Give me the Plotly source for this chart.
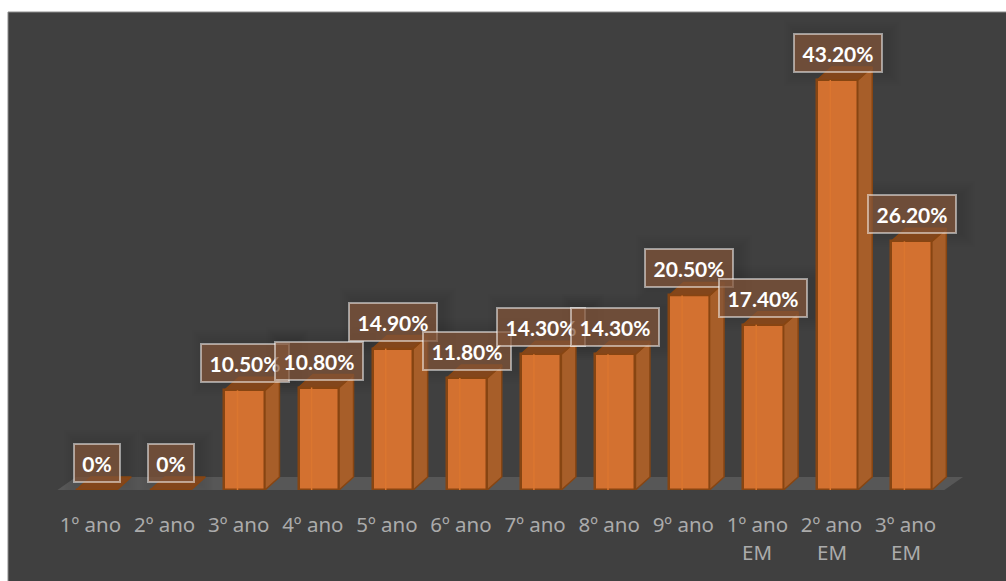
import plotly.graph_objects as go

categories = ["1º ano", "2º ano", "3º ano", "4º ano", "5º ano", "6º ano",
              "7º ano", "8º ano", "9º ano", "1º ano", "2º ano", "3º ano"]
second_line = ["", "", "", "", "", "", "", "", "", "EM", "EM", "EM"]
values = [0, 0, 10.5, 10.8, 14.9, 11.8, 14.3, 14.3, 20.5, 17.4, 43.2, 26.2]
labels = ["0%", "0%", "10.50%", "10.80%", "14.90%", "11.80%",
          "14.30%", "14.30%", "20.50%", "17.40%", "43.20%", "26.20%"]

W, H = 1006, 581
BASE = 490
PX_X = 74.1
PX_Y = 9.49
X0 = 90.5
BAR_PX = 40.5
SHIFT_PX = 6
DX_PX, DY_PX = 14.5, 13

dx = DX_PX / PX_X
dy = DY_PX / PX_Y
bw = BAR_PX / PX_X
shift = SHIFT_PX / PX_X
xs = list(range(len(values)))
DARK = "#404040"
EDGE = "#874512"
TICK = "#ABABAB"

shapes = [dict(type="rect", xref="paper", yref="paper",
               x0=8 / W, x1=1.01, y0=-(H - BASE + 5) / BASE, y1=(BASE - 12) / BASE,
               fillcolor=DARK, line=dict(color="#8c8c8c", width=1), layer="below")]

# floor
fx0, fx1 = (56 - X0) / PX_X, (943 - X0) / PX_X
shapes.append(dict(type="path", xref="x", yref="y", layer="below", line=dict(width=0),
                   fillcolor="#575757",
                   path=f"M{fx0},-0.1 L{fx1},-0.1 L{fx1 + 20 / PX_X},{dy} L{fx0 + 20 / PX_X},{dy} Z"))

# soft shadows under bars and labels
def soft(xc, ytop, halfw, up, down):
    out = []
    for g in range(2, 16, 2):
        out.append(dict(type="rect", layer="below", xref="x", yref="y",
                        xsizemode="pixel", ysizemode="pixel", xanchor=xc, yanchor=ytop,
                        x0=-halfw - g + 5, x1=halfw + g + 5, y0=-down - g, y1=up + g,
                        fillcolor="rgba(0,0,0,0.012)", line=dict(width=0)))
    return out

for x, v, t in zip(xs, values, labels):
    c = x + shift
    half = 23 if t == "0%" else 44
    shapes += soft(c, v, half, 46, -8)

fig = go.Figure()
# side and top faces derived from the values
for x, v in zip(xs, values):
    l = x + shift - bw / 2
    r = x + shift + bw / 2
    if v > 0:
        fig.add_trace(go.Scatter(x=[r, r + dx, r + dx, r, r], y=[0, dy, v + dy, v, 0],
                                 mode="lines", fill="toself", fillcolor="#A75E29",
                                 line=dict(color=EDGE, width=1.5),
                                 hoverinfo="skip", showlegend=False))
    fig.add_trace(go.Scatter(x=[l, r, r + dx, l + dx, l], y=[v, v, v + dy, v + dy, v],
                             mode="lines", fill="toself", fillcolor="#83461B",
                             line=dict(color=EDGE, width=1.5),
                             hoverinfo="skip", showlegend=False))

fig.add_trace(go.Bar(x=xs, y=values, width=bw, offset=shift - bw / 2,
                     marker=dict(color="#D37130", line=dict(color=EDGE, width=2.5)),
                     hoverinfo="skip", showlegend=False))

# faint rear edge seen through the front face
for x, v in zip(xs, values):
    if v > 0:
        l = x + shift - bw / 2 + dx * 0.9
        fig.add_trace(go.Scatter(x=[l, l], y=[0, v], mode="lines",
                                 line=dict(color="#DB762F", width=1.5),
                                 hoverinfo="skip", showlegend=False))

annotations = []
for x, v, t in zip(xs, values, labels):
    w = 44 if t == "0%" else 86
    annotations.append(dict(x=x + shift, y=v, xref="x", yref="y", text=f"<b>{t}</b>",
                            showarrow=False, yanchor="bottom", yshift=7,
                            width=w, height=36, borderpad=0, align="center", valign="middle",
                            bgcolor="rgba(130,85,57,0.72)",
                            bordercolor="rgba(255,255,255,0.5)", borderwidth=2,
                            font=dict(family="Lato", size=21, color="white")))
for x, s in zip(xs, second_line):
    if s:
        annotations.append(dict(x=x, y=-(552 - BASE) / BASE, xref="x", yref="paper",
                                text=s, showarrow=False, yanchor="middle",
                                font=dict(family="Noto Sans", size=20.5, color=TICK)))

fig.update_layout(
    width=W, height=H, margin=dict(l=0, r=0, t=0, b=H - BASE, pad=0),
    paper_bgcolor="white", plot_bgcolor="rgba(0,0,0,0)",
    shapes=shapes, annotations=annotations, showlegend=False, bargap=0,
    font=dict(family="Noto Sans"),
    xaxis=dict(range=[-X0 / PX_X, (W - X0) / PX_X], tickmode="array", tickvals=xs,
               ticktext=categories, showgrid=False, zeroline=False, showline=False,
               ticks="outside", ticklen=16, tickcolor="rgba(0,0,0,0)",
               tickfont=dict(family="Noto Sans", size=20.5, color=TICK)),
    yaxis=dict(range=[0, BASE / PX_Y], visible=False),
)
fig.write_html("out.html", config=dict(displayModeBar=False),
               post_script="document.body.style.margin='0';")
